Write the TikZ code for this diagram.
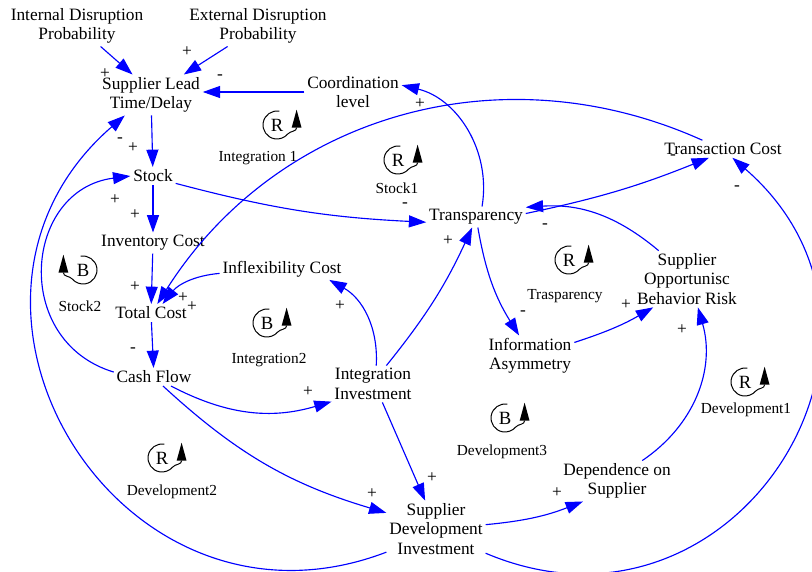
\documentclass[tikz,border=0pt]{standalone}
\usepackage{fontspec}
\setmainfont{Liberation Serif}
\usetikzlibrary{arrows.meta}
\definecolor{Linkcol}{HTML}{0000FF}
\newcommand{\VarFont}{\fontsize{13}{14.5}\selectfont}
\newcommand{\LoopFont}{\fontsize{11.5}{13}\selectfont}
\newcommand{\LetterFont}{\fontsize{14}{14}\selectfont}
\tikzstyle{link} = [-{Triangle[length=13pt,width=9pt]}, Linkcol, line width=0.85pt]
\tikzset{
  var/.style = {
    shape = rectangle,
    align = center,
    inner sep = 2pt,
    font = \VarFont,
    },
  pol/.style = {inner sep=0pt, font=\VarFont},
  loop sym/.style = {inner sep=0pt, font=\LetterFont},
  loop name/.style = {inner sep=0pt, font=\LoopFont},
  loop line/.style = {black, line width=0.75pt},
}

\begin{document}
\begin{tikzpicture}[x=0.75pt,y=0.75pt]
    \useasboundingbox (0,0) rectangle (812,-571);

    % variables
    \node[var] (idp) at (77,-26) {Internal Disruption\\Probability};
    \node[var] (edp) at (258,-26) {External Disruption\\Probability};
    \node[var] (slt) at (151,-95) {Supplier Lead\\Time/Delay};
    \node[var] (coord) at (353,-92) {Coordination\\level};
    \node[var] (stock) at (153,-176) {Stock};
    \node[var] (tcost) at (723,-149) {Transaction Cost};
    \node[var] (trans) at (476,-217) {Transparency};
    \node[var] (invcost) at (153,-243) {Inventory Cost};
    \node[var] (inflex) at (282,-269) {Inflexibility Cost};
    \node[var] (total) at (151,-313) {Total Cost};
    \node[var] (sobr) at (687,-279) {Supplier\\Opportunisc\\Behavior Risk};
    \node[var] (info) at (530,-356) {Information\\Asymmetry};
    \node[var] (cash) at (154,-377) {Cash Flow};
    \node[var] (intinv) at (373,-384) {Integration\\Investment};
    \node[var] (dep) at (617,-481) {Dependence on\\Supplier};
    \node[var] (sdi) at (436,-529) {Supplier\\Development\\Investment};

    % loops
    \node[loop sym] (lpInt1) at (277,-125) {R};
    \node[loop name] (nmInt1) at (258,-158) {Integration 1};
    \node[loop sym] (lpStock1) at (398,-160) {R};
    \node[loop name] (nmStock1) at (397,-188) {Stock1};
    \node[loop sym] (lpStock2) at (83,-270) {B};
    \node[loop name] (nmStock2) at (80,-306) {Stock2};
    \node[loop sym] (lpInt2) at (267,-323) {B};
    \node[loop name] (nmInt2) at (269,-360) {Integration2};
    \node[loop sym] (lpTrans) at (569,-260) {R};
    \node[loop name] (nmTrans) at (565,-296) {Trasparency};
    \node[loop sym] (lpDev1) at (745,-382) {R};
    \node[loop name] (nmDev1) at (746,-410) {Development1};
    \node[loop sym] (lpDev3) at (505,-418) {B};
    \node[loop name] (nmDev3) at (502,-452) {Development3};
    \node[loop sym] (lpDev2) at (162,-458) {R};
    \node[loop name] (nmDev2) at (172,-492) {Development2};

    \foreach \lp/\dir in {lpInt1/1,lpStock1/1,lpStock2/-1,lpInt2/1,lpTrans/1,lpDev1/1,lpDev3/1,lpDev2/1}{
      \begin{scope}[shift={(\lp.center)},xscale=\dir]
        \draw[loop line] (80:10.5pt) arc[start angle=80,end angle=320,radius=10.5pt]
          to[out=50,in=-90] (14.7pt,-2pt);
        \fill (11pt,-2pt) -- (18.4pt,-2pt) -- (14.7pt,11.5pt) -- cycle;
      \end{scope}
    }

    % Paths
    \draw[link] (idp.-41) -- (slt.132);
    \draw[link] (edp.214) -- (slt.32);
    \draw[link] (coord.west) -- (coord.west -| slt.east);
    \draw[link] (slt) -- (stock);
    \draw[link] (stock) -- (invcost);
    \draw[link] (invcost) -- (total);
    \draw[link] (total) -- (cash);
    \draw[link] (cash.173) to[bend left=78,looseness=1.4] (stock.west);
    \draw[link] (stock.-18) to[bend right=6] (trans.186);
    \draw[link] (trans.60) to[bend right=43] (coord.8);
    \draw[link] (tcost.157) to[bend right=41] (total.55);
    \draw[link] (inflex.184) to[bend right=23] (total.38);
    \draw[link] (trans.4) to[bend right=5] (tcost.212);
    \draw[link] (sobr.135) to[bend right=22] (trans.11);
    \draw[link] (sdi.-26) to[bend right=81,looseness=1.49] (tcost.-43);
    \draw[link] (trans.-80) to[bend right=11] (info.118);
    \draw[link] (info.17) to[bend right=6] (sobr.220);
    \draw[link] (dep.39) to[bend right=36] (sobr.-69);
    \draw[link] (cash.-28) to[bend right=22] (intinv.203);
    \draw[link] (intinv.80) to[bend right=32] (inflex.-13);
    \draw[link] (intinv.54) to[bend right=7] (trans.250);
    \draw[link] (intinv.-63) -- (sdi.111);
    \draw[link] (cash.-45) to[bend right=13] (sdi.162);
    \draw[link] (sdi.5) to[bend right=8] (dep.211);
    \draw[link] (sdi.205) to[bend left=80,looseness=1.44] (slt.218);

    % polarities
    \foreach \s/\x/\y [count=\i] in {
      +/105/74, +/187/52, -/220/77, +/133/148, -/120/140, +/135/215, +/115/200,
      +/135/287, +/183/298, +/192/307, -/133/350, -/405/205, +/420/104, -/673/157,
      -/545/226, -/737/188, -/523/313, +/626/305, +/682/330, +/308/392, +/340/306,
      +/448/241, +/432/478, +/372/494, +/557/493}
      \node[pol] (pol\i) at (\x,-\y) {\s};

\end{tikzpicture}
\end{document}
